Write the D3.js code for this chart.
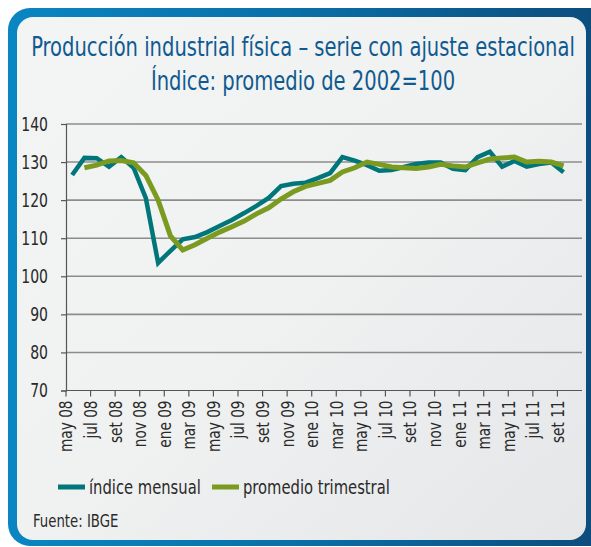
<!DOCTYPE html>
<html>
<head>
<meta charset="utf-8">
<script src="https://cdn.jsdelivr.net/npm/d3@7"></script>
<style>
  html, body { margin: 0; padding: 0; background: #ffffff; }
  svg { display: block; }
</style>
</head>
<body>
<div id="chart"></div>
<script>
// Months on the category axis (last one has no data)
const months = [
  'may 08', 'jun 08', 'jul 08', 'ago 08', 'set 08', 'oct 08', 'nov 08', 'dic 08',
  'ene 09', 'feb 09', 'mar 09', 'abr 09', 'may 09', 'jun 09', 'jul 09', 'ago 09',
  'set 09', 'oct 09', 'nov 09', 'dic 09', 'ene 10', 'feb 10', 'mar 10', 'abr 10',
  'may 10', 'jun 10', 'jul 10', 'ago 10', 'set 10', 'oct 10', 'nov 10', 'dic 10',
  'ene 11', 'feb 11', 'mar 11', 'abr 11', 'may 11', 'jun 11', 'jul 11', 'ago 11',
  'set 11', 'oct 11'
];

// índice mensual, may 08 - set 11
const mensual = [
  126.6, 131.1, 131.0, 128.8, 131.3, 128.5, 120.5, 103.5,
  106.7, 109.7, 110.3, 111.6, 113.2, 114.8, 116.6, 118.5,
  120.6, 123.7, 124.3, 124.6, 125.8, 127.1, 131.3, 130.4,
  129.2, 127.7, 127.9, 128.7, 129.5, 129.9, 129.9, 128.2,
  127.9, 131.3, 132.7, 128.8, 130.3, 128.8, 129.5, 129.9,
  127.3
];

// promedio trimestral, jun 08 - set 11
const trimestral = [
  128.5, 129.2, 130.3, 130.4, 129.8, 126.5, 120.0,
  110.6, 106.9, 108.3, 110.0, 111.6, 113.0, 114.5, 116.4,
  118.0, 120.3, 122.2, 123.6, 124.4, 125.2, 127.4, 128.5,
  130.0, 129.4, 128.7, 128.5, 128.3, 128.7, 129.4, 129.0,
  128.7, 129.8, 130.8, 131.1, 131.3, 130.0, 130.2, 130.0,
  129.0
];

const yTicks = [70, 80, 90, 100, 110, 120, 130, 140];

const titleLines = [
  'Producción industrial física – serie con ajuste estacional',
  'Índice: promedio de 2002=100'
];
const legendItems = [
  { label: 'índice mensual', color: '#00767a' },
  { label: 'promedio trimestral', color: '#7a9a20' }
];

const W = 591, H = 547;
const narrow = "'Liberation Sans Narrow', 'DejaVu Sans Condensed', 'Arial Narrow', sans-serif";
const squeeze = 0.82;

// Narrow the glyphs of a text selection (no condensed face is installed)
function condense(sel, factor) {
  sel.each(function () {
    const w = this.getComputedTextLength();
    d3.select(this)
      .attr('textLength', w * factor)
      .attr('lengthAdjust', 'spacingAndGlyphs');
  });
}

const svg = d3.select('#chart')
  .append('svg')
  .attr('width', W)
  .attr('height', H);

const defs = svg.append('defs');

const frameGrad = defs.append('linearGradient')
  .attr('id', 'frameGrad')
  .attr('x1', '0').attr('y1', '0').attr('x2', '1').attr('y2', '0');
frameGrad.append('stop').attr('offset', '0%').attr('stop-color', '#0a86c2');
frameGrad.append('stop').attr('offset', '45%').attr('stop-color', '#0a70a8');
frameGrad.append('stop').attr('offset', '100%').attr('stop-color', '#0d4978');

const panelGrad = defs.append('linearGradient')
  .attr('id', 'panelGrad')
  .attr('x1', '0').attr('y1', '0').attr('x2', '1').attr('y2', '1');
panelGrad.append('stop').attr('offset', '0%').attr('stop-color', '#f3f4f4');
panelGrad.append('stop').attr('offset', '50%').attr('stop-color', '#f0f1f1');
panelGrad.append('stop').attr('offset', '100%').attr('stop-color', '#e4e6e8');

// Blue frame and inner panel
svg.append('rect')
  .attr('x', 8).attr('y', 8)
  .attr('width', 620).attr('height', 538)
  .attr('rx', 22)
  .attr('fill', 'url(#frameGrad)');

svg.append('rect')
  .attr('x', 17).attr('y', 17)
  .attr('width', 569).attr('height', 523)
  .attr('rx', 16)
  .attr('fill', 'url(#panelGrad)');

// Title: squeeze horizontally so the first line spans ~544px
const titleG = svg.append('g');
const titles = titleG.selectAll('.title')
  .data(titleLines)
  .enter()
  .append('text')
  .attr('class', 'title')
  .attr('x', 0)
  .attr('y', (d, i) => i * 34)
  .attr('text-anchor', 'middle')
  .attr('font-family', narrow)
  .attr('font-size', '26px')
  .attr('fill', '#0f5a90')
  .text((d) => d);
const titleFactor = 544 / titles.node().getComputedTextLength();
titleG.attr('transform', `translate(303,56) scale(${titleFactor},1)`);

// Scales
const x = d3.scaleBand().domain(months).range([66, 582]).paddingInner(0).paddingOuter(0);
const cx = (m) => x(m) + x.bandwidth() / 2;
const y = d3.scaleLinear().domain([70, 140]).range([390.5, 124]);

// Gridlines
svg.selectAll('.grid')
  .data(yTicks.filter((d) => d > 70))
  .enter()
  .append('line')
  .attr('class', 'grid')
  .attr('x1', 66).attr('x2', 582)
  .attr('y1', (d) => y(d)).attr('y2', (d) => y(d))
  .attr('stroke', '#8c8c8c')
  .attr('stroke-width', 1.6);

// Y axis
const yAxis = svg.append('g').attr('transform', 'translate(66,0)')
  .call(d3.axisLeft(y).tickValues(yTicks).tickSize(5).tickPadding(13));
yAxis.select('.domain').attr('stroke', '#555').attr('stroke-width', 1.2);
yAxis.selectAll('.tick line').attr('stroke', '#555').attr('stroke-width', 1.2);
yAxis.selectAll('.tick text')
  .attr('font-family', narrow)
  .attr('font-size', '19px')
  .attr('fill', '#2a2a2a')
  .call(condense, squeeze);

// X axis: ticks every two months at category boundaries
const labelled = months.filter((d, i) => i % 2 === 0 && i < months.length - 1);
svg.append('line')
  .attr('x1', 66).attr('x2', 582)
  .attr('y1', y(70)).attr('y2', y(70))
  .attr('stroke', '#555').attr('stroke-width', 1.2);

svg.selectAll('.xtick')
  .data(labelled)
  .enter()
  .append('line')
  .attr('class', 'xtick')
  .attr('x1', (d) => x(d)).attr('x2', (d) => x(d))
  .attr('y1', y(70)).attr('y2', y(70) + 6)
  .attr('stroke', '#555').attr('stroke-width', 1.2);

svg.selectAll('.xlabel')
  .data(labelled)
  .enter()
  .append('text')
  .attr('class', 'xlabel')
  .attr('transform', (d) => `translate(${x(d)},${y(70) + 10}) rotate(-90)`)
  .attr('text-anchor', 'end')
  .attr('dy', '0.35em')
  .attr('font-family', narrow)
  .attr('font-size', '18.5px')
  .attr('fill', '#2a2a2a')
  .text((d) => d)
  .call(condense, squeeze);

// Lines
const line = d3.line()
  .x((d) => cx(d.m))
  .y((d) => y(d.v));

const mensualPts = mensual.map((v, i) => ({ m: months[i], v }));
const trimPts = trimestral.map((v, i) => ({ m: months[i + 1], v }));

svg.append('path')
  .attr('d', line(mensualPts))
  .attr('fill', 'none')
  .attr('stroke', legendItems[0].color)
  .attr('stroke-width', 4.5)
  .attr('stroke-linejoin', 'miter');

svg.append('path')
  .attr('d', line(trimPts))
  .attr('fill', 'none')
  .attr('stroke', legendItems[1].color)
  .attr('stroke-width', 5)
  .attr('stroke-linejoin', 'miter');

// Legend
const legendX = [58, 212];
const legend = svg.selectAll('.legend')
  .data(legendItems)
  .enter()
  .append('g')
  .attr('class', 'legend')
  .attr('transform', (d, i) => `translate(${legendX[i]},487)`);

legend.append('line')
  .attr('x1', 0).attr('x2', 27)
  .attr('y1', 0).attr('y2', 0)
  .attr('stroke', (d) => d.color)
  .attr('stroke-width', 5);

legend.append('text')
  .attr('x', 31)
  .attr('y', 0)
  .attr('dy', '0.35em')
  .attr('font-family', narrow)
  .attr('font-size', '20px')
  .attr('fill', '#2a2a2a')
  .text((d) => d.label)
  .call(condense, squeeze);

// Source
svg.append('text')
  .attr('x', 33)
  .attr('y', 527)
  .attr('font-family', narrow)
  .attr('font-size', '18px')
  .attr('fill', '#2a2a2a')
  .text('Fuente: IBGE')
  .call(condense, squeeze);
</script>
</body>
</html>
